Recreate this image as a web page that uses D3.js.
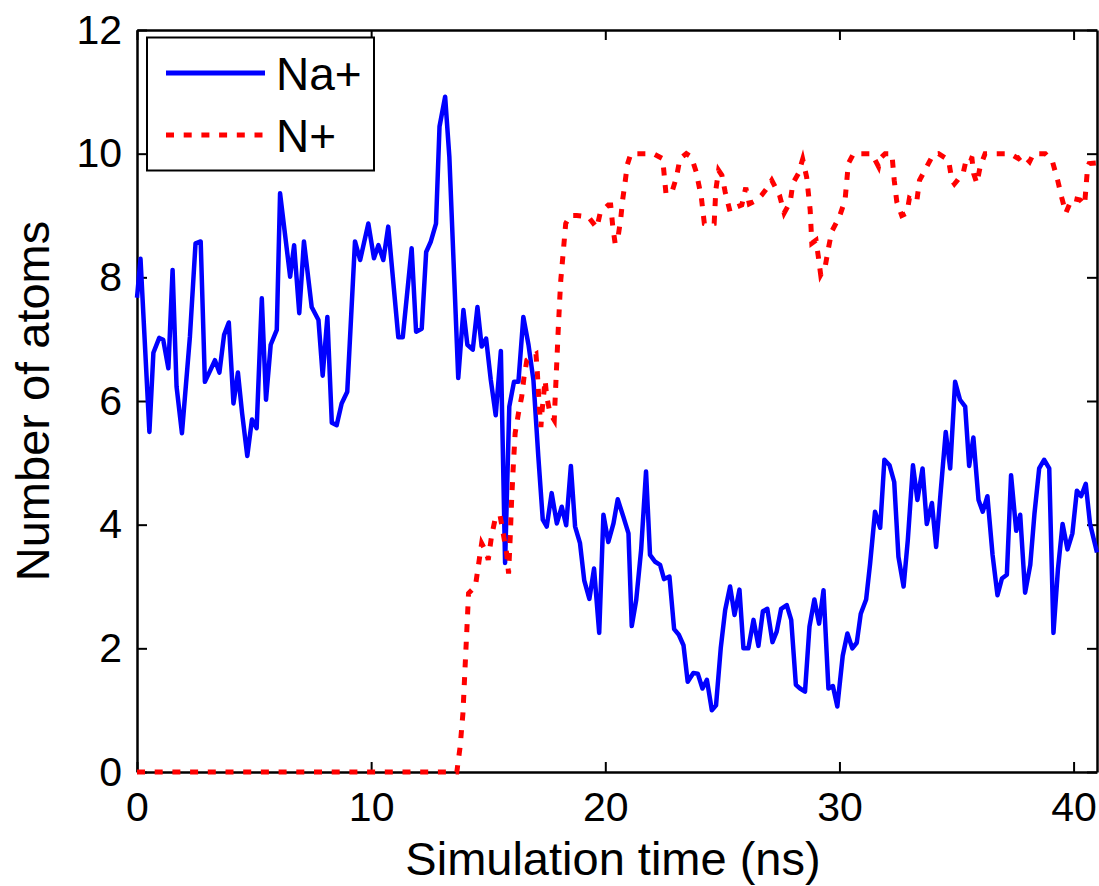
<!DOCTYPE html>
<html>
<head>
<meta charset="utf-8">
<script src="https://cdn.jsdelivr.net/npm/d3@7"></script>
<style>
  body { margin: 0; background: #fff; }
  svg { font-family: "Liberation Sans", Arial, Helvetica, sans-serif; }
</style>
</head>
<body>
<div id="chart"></div>
<script>
// simulation time (ns) and counts
let naTime = [0.0,0.15,0.53,0.70,0.95,1.12,1.34,1.52,1.69,1.92,2.26,2.5,2.72,2.9,3.33,3.52,3.72,3.92,4.12,4.31,4.49,4.71,4.91,5.11,5.33,5.51,5.71,5.97,6.11,6.54,6.71,6.93,7.13,7.46,7.75,7.93,8.13,8.32,8.53,8.74,8.98,9.31,9.53,9.88,10.12,10.31,10.52,10.73,11.16,11.35,11.73,11.92,12.16,12.35,12.55,12.77,12.92,13.16,13.34,13.72,13.94,14.11,14.34,14.54,14.72,14.91,15.11,15.32,15.54,15.72,15.9,16.1,16.29,16.5,16.72,16.93,17.14,17.33,17.5,17.71,17.93,18.14,18.33,18.53,18.71,18.92,19.1,19.32,19.52,19.74,19.92,20.13,20.35,20.53,20.77,20.99,21.13,21.32,21.53,21.74,21.91,22.13,22.34,22.51,22.74,22.94,23.14,23.34,23.52,23.76,23.95,24.15,24.34,24.55,24.73,24.93,25.12,25.33,25.52,25.73,25.9,26.11,26.33,26.54,26.73,26.92,27.14,27.32,27.51,27.75,27.94,28.14,28.32,28.53,28.72,28.93,29.13,29.32,29.53,29.72,29.91,30.14,30.34,30.55,30.74,30.91,31.14,31.31,31.52,31.74,31.92,32.14,32.34,32.52,32.74,32.92,33.14,33.33,33.55,33.73,33.95,34.13,34.33,34.54,34.73,34.94,35.15,35.37,35.54,35.72,35.94,36.12,36.32,36.54,36.75,36.94,37.15,37.33,37.55,37.72,37.93,38.15,38.33,38.53,38.74,38.96,39.14,39.33,39.53,39.74,39.95,40.14,40.32,40.52,40.7,41.0];
let naCount = [7.67,8.3,5.5,6.78,7.02,6.99,6.53,8.12,6.23,5.48,7.04,8.55,8.58,6.31,6.66,6.46,7.07,7.27,5.96,6.46,5.8,5.11,5.7,5.56,7.66,6.02,6.91,7.15,9.36,8.01,8.52,7.42,8.58,7.52,7.31,6.41,7.36,5.65,5.61,5.96,6.15,8.58,8.28,8.87,8.31,8.52,8.28,8.82,7.03,7.03,8.47,7.12,7.17,8.41,8.58,8.87,10.44,10.92,9.95,6.37,7.47,6.91,6.83,7.52,6.88,7.01,6.34,5.77,6.81,3.38,5.91,6.31,6.31,7.36,6.91,6.34,5.1,4.08,3.97,4.51,4.02,4.29,3.99,4.95,3.97,3.7,3.1,2.8,3.29,2.25,4.16,3.72,4.02,4.41,4.13,3.86,2.36,2.78,3.59,4.86,3.51,3.4,3.35,3.12,3.16,2.31,2.22,2.05,1.46,1.6,1.59,1.35,1.49,1.0,1.08,2.0,2.62,3.0,2.54,2.95,2.0,2.0,2.46,2.04,2.6,2.64,2.1,2.27,2.64,2.7,2.46,1.41,1.35,1.3,2.35,2.79,2.4,2.94,1.35,1.39,1.06,1.88,2.24,2.0,2.09,2.56,2.79,3.37,4.21,3.95,5.05,4.96,4.69,3.48,3.0,3.75,4.96,4.4,4.91,4.01,4.35,3.64,4.56,5.5,4.91,6.31,6.02,5.91,4.95,5.41,4.4,4.21,4.46,3.51,2.86,3.13,3.19,4.8,3.9,4.16,2.9,3.35,4.18,4.91,5.05,4.91,2.25,3.27,4.01,3.6,3.86,4.55,4.46,4.66,4.02,3.55];

let nTime = [0,13.66,13.8,13.92,14.0,14.08,14.16,14.45,14.72,14.91,15.0,15.14,15.29,15.5,15.64,15.79,15.87,15.94,16.0,16.07,16.15,16.29,16.43,16.53,16.65,16.86,17.04,17.1,17.18,17.25,17.29,17.43,17.5,17.64,17.82,17.85,17.92,17.99,18.06,18.1,18.2,18.31,18.5,18.78,19.27,19.64,19.78,20.13,20.23,20.32,20.42,20.56,20.66,20.74,20.84,20.94,21.09,22.05,22.45,22.59,22.83,23.04,23.19,23.46,23.67,23.88,24.1,24.23,24.4,24.65,24.72,24.84,24.98,25.12,25.33,25.55,25.83,26.0,26.15,26.47,26.68,26.9,27.11,27.44,27.64,27.9,28.01,28.25,28.43,28.6,28.75,28.82,29.0,29.1,29.2,29.39,29.53,29.67,30.0,30.24,30.38,30.6,31.38,31.52,31.67,31.74,31.95,32.24,32.34,32.45,32.66,32.88,32.99,33.16,33.3,33.42,33.73,34.01,34.23,34.66,34.8,34.91,35.04,35.3,35.44,35.66,35.73,35.87,36.01,36.22,37.29,37.65,37.84,38.12,38.29,38.79,39.1,39.32,39.5,39.67,39.93,40.28,40.47,40.6,40.66,41.0];
let nCount = [0,0,0.41,0.95,1.6,2.24,2.89,3.0,3.7,3.56,3.43,3.81,4.08,4.16,3.86,3.53,3.21,3.8,4.4,4.94,5.48,5.8,6.07,6.39,6.66,6.72,6.76,6.45,5.91,5.58,5.8,6.34,6.07,5.8,5.69,5.96,6.55,7.15,7.69,7.96,8.39,8.87,9.0,9.0,8.98,8.8,9.04,9.17,9.17,8.82,8.55,8.69,8.95,9.25,9.52,9.82,10,10,9.92,9.36,9.36,9.62,9.92,10.0,9.95,9.71,9.3,8.87,8.85,8.87,9.41,9.73,9.65,9.38,9.06,9.13,9.17,9.45,9.19,9.25,9.33,9.44,9.57,9.33,9.04,9.22,9.52,9.68,9.91,9.62,9.09,8.55,8.6,8.33,8.04,8.17,8.47,8.74,8.98,9.25,9.84,10,10,9.9,9.79,9.92,10,10,9.57,9.22,9.0,9.04,9.28,9.25,9.22,9.57,9.79,9.99,10,9.9,9.57,9.51,9.57,9.71,9.95,9.92,9.68,9.52,9.79,10,10,9.92,9.98,9.87,10.0,10,9.87,9.57,9.28,9.04,9.28,9.25,9.17,9.79,9.84,9.85];

let xTicks = [0, 10, 20, 30, 40];
let yTicks = [0, 2, 4, 6, 8, 10, 12];
let seriesNames = ["Na+", "N+"];

let width = 1099,
height = 886,
plotLeft = 137, plotRight = 1097, plotTop = 30, plotBottom = 772;

let svg = d3.select("#chart")
.append("svg")
.attr("width", width)
.attr("height", height);

let x = d3.scaleLinear().domain([0, 41]).range([plotLeft, plotRight]);
let y = d3.scaleLinear().domain([0, 12]).range([plotBottom, plotTop]);

// axes, ticks pointing inwards on every side (matlab box)
let axisFont = 41;

let gx = svg.append("g")
  .attr("transform", `translate(0,${plotBottom})`)
  .call(d3.axisBottom(x).tickValues(xTicks).tickSize(-10).tickSizeOuter(0).tickPadding(20));
let gy = svg.append("g")
  .attr("transform", `translate(${plotLeft},0)`)
  .call(d3.axisLeft(y).tickValues(yTicks).tickSize(-10).tickSizeOuter(0).tickPadding(15));
let gt = svg.append("g")
  .attr("transform", `translate(0,${plotTop})`)
  .call(d3.axisTop(x).tickValues(xTicks).tickSize(-10).tickSizeOuter(0).tickFormat(""));
let gr = svg.append("g")
  .attr("transform", `translate(${plotRight},0)`)
  .call(d3.axisRight(y).tickValues(yTicks).tickSize(-10).tickSizeOuter(0).tickFormat(""));

[gx, gy, gt, gr].forEach(g => {
  g.selectAll("path.domain").attr("stroke", "#000").attr("stroke-width", 2.5);
  g.selectAll(".tick line").attr("stroke", "#000").attr("stroke-width", 2);
  g.selectAll(".tick text")
    .attr("fill", "#000")
    .style("font-size", axisFont + "px")
    .style("font-family", "'Liberation Sans', Arial, sans-serif");
});

// axis titles
svg.append("text")
  .text("Simulation time (ns)")
  .attr("x", (plotLeft + plotRight) / 2 - 4)
  .attr("y", 875)
  .attr("text-anchor", "middle")
  .style("font-size", "47px");

svg.append("text")
  .text("Number of atoms")
  .attr("transform", `translate(49,${(plotTop + plotBottom) / 2}) rotate(-90)`)
  .attr("text-anchor", "middle")
  .style("font-size", "47px");

// lines
let line = d3.line()
  .x(d => x(d[0]))
  .y(d => y(d[1]));

let naData = naTime.map((t, i) => [t, naCount[i]]);
let nData = nTime.map((t, i) => [t, nCount[i]]);

svg.append("path")
  .datum(naData)
  .attr("d", line)
  .attr("fill", "none")
  .attr("stroke", "#0000ff")
  .attr("stroke-width", 4.5)
  .attr("stroke-linejoin", "round");

svg.append("path")
  .datum(nData)
  .attr("d", line)
  .attr("fill", "none")
  .attr("stroke", "#ff0000")
  .attr("stroke-width", 5)
  .attr("stroke-dasharray", "8,9.7");

// legend
let legend = svg.append("g");
legend.append("rect")
  .attr("x", 147)
  .attr("y", 37.5)
  .attr("width", 227)
  .attr("height", 133)
  .attr("fill", "#fff")
  .attr("stroke", "#000")
  .attr("stroke-width", 2);

let colors = ["#0000ff", "#ff0000"];
let dashes = [null, "8,9.7"];
seriesNames.forEach((name, i) => {
  let ly = 73 + i * 62;
  legend.append("line")
    .attr("x1", 166).attr("x2", 265)
    .attr("y1", ly).attr("y2", ly)
    .attr("stroke", colors[i])
    .attr("stroke-width", 5)
    .attr("stroke-dasharray", dashes[i]);
  legend.append("text")
    .text(name)
    .attr("x", 276)
    .attr("y", ly + 17)
    .style("font-size", "46px");
});
</script>
</body>
</html>
